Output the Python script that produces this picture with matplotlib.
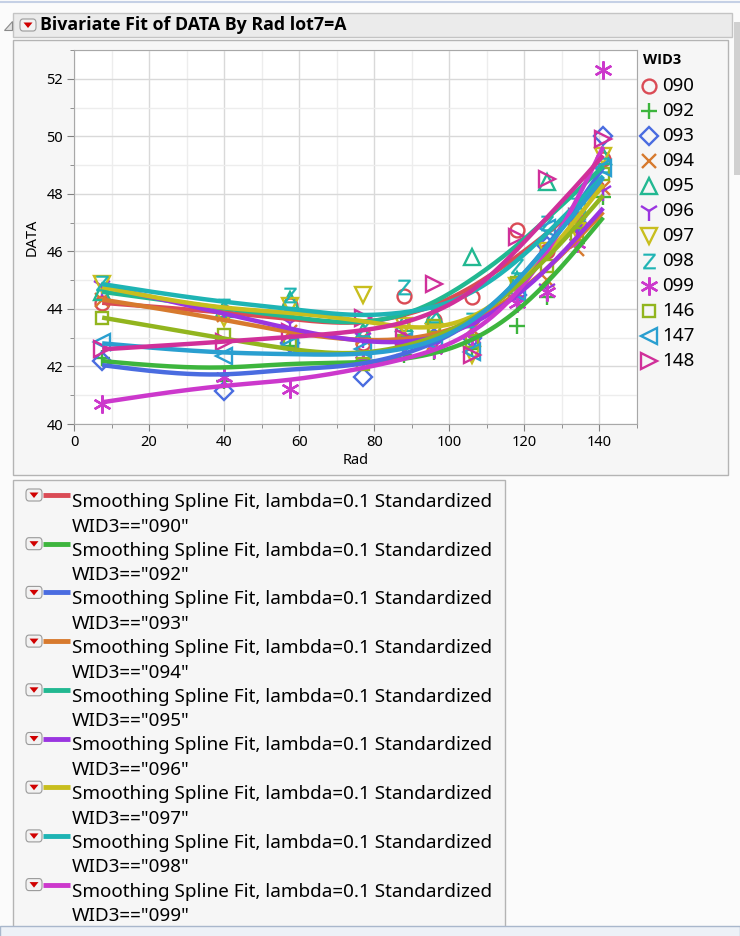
import numpy as np
import matplotlib
matplotlib.use('Agg')
import matplotlib.pyplot as plt
from matplotlib.lines import Line2D
from matplotlib.patches import Rectangle, FancyBboxPatch, Polygon

plt.rcParams['font.family'] = ['Noto Sans', 'DejaVu Sans']

# ---- data ----
rad = [7.5, 40, 57.5, 77, 88, 96, 106, 118, 126, 134, 141]
groups = ['090', '092', '093', '094', '095', '096', '097', '098', '099', '146', '147', '148']

y090 = [44.2, 43.9, 44.15, 42.8, 44.45, 43.6, 44.4, 46.75, 46.0, 46.9, 49.2]
y092 = [42.3, 41.5, 42.7, 42.2, 42.4, 42.5, 42.6, 43.4, 44.4, 46.3, 47.9]
y093 = [42.2, 41.15, 42.8, 41.65, 42.8, 43.0, 43.0, 44.5, 46.2, 47.0, 50.0]
y094 = [44.3, 43.8, 43.2, 43.0, 43.2, 42.8, 43.3, 44.6, 45.0, 46.1, 48.2]
y095 = [44.6, 44.0, 44.3, 43.2, 43.5, 43.8, 45.8, 45.0, 48.4, 47.5, 49.3]
y096 = [44.8, 43.9, 43.5, 43.0, 42.9, 42.7, 43.4, 44.3, 44.7, 46.8, 48.1]
y097 = [44.85, 43.7, 44.1, 44.5, 43.4, 43.2, 42.4, 44.8, 46.0, 46.7, 49.3]
y098 = [44.9, 44.1, 44.5, 43.3, 44.75, 43.8, 43.6, 45.5, 47.0, 47.6, 49.0]
y099 = [40.7, 41.65, 41.2, 42.2, 42.9, 42.6, 43.0, 44.2, 44.6, 46.3, 52.3]
y146 = [43.7, 43.1, 42.8, 42.1, 42.9, 43.4, 42.9, 44.9, 45.5, 46.6, 48.7]
y147 = [42.85, 42.35, 42.75, 42.6, 42.9, 42.8, 42.5, 44.6, 46.8, 47.4, 48.9]
y148 = [42.6, 42.85, 43.2, 43.7, 43.0, 44.85, 42.4, 46.5, 48.5, 47.2, 49.9]
values = [y090, y092, y093, y094, y095, y096, y097, y098, y099, y146, y147, y148]

colors = ['#DA4B55', '#3DB53D', '#4A6CE0', '#D77A2E', '#22B891', '#9A35E0',
          '#C8BE1E', '#1EB4B4', '#CC38CC', '#92B51E', '#2A9FD0', '#D0309A']
markers = ['o', '+', 'D', 'x', '^', '1', 'v', r'$\mathsf{Z}$', (6, 2, 0), 's', '<', '>']
msizes = [10, 12, 9, 10, 11, 14, 11, 11, 13, 9, 11, 11]

W, H = 740, 936
def fx(px):
    return px / W
def fy(py):
    return 1 - py / H


def smooth_spline(x, y, lam, h=0.5):
    # penalised least squares on a fine grid ~ cubic smoothing spline
    t = np.arange(min(x), max(x) + h / 2, h)
    n = len(t)
    w = np.zeros(n)
    b = np.zeros(n)
    for xi, yi in zip(x, y):
        k = int(round((xi - t[0]) / h))
        w[k] += 1
        b[k] += yi
    D = np.diff(np.eye(n), 2, axis=0)
    A = np.diag(w) + lam / h ** 3 * D.T @ D
    return t, np.linalg.solve(A, b)


def mstyle(m, c):
    # text markers (the Z) look best filled, the rest are open
    if isinstance(m, str) and m.startswith('$'):
        return dict(mfc=c, mec=c, mew=0.2)
    return dict(mfc='none', mec=c, mew=1.7)


fig = plt.figure(figsize=(7.4, 9.36), dpi=100)
fig.patch.set_facecolor('#FBFBFB')

def rect(x0, y0, x1, y1, fc, ec, lw=1.0, z=-5):
    fig.add_artist(Rectangle((fx(x0), fy(y1)), fx(x1) - fx(x0), (y1 - y0) / H,
                             transform=fig.transFigure, fc=fc, ec=ec, lw=lw, zorder=z))

def dropdown(x0, y0):
    fig.add_artist(FancyBboxPatch((fx(x0), fy(y0 + 12)), 16 / W, 12 / H,
                                  boxstyle='round,pad=0,rounding_size=0.004',
                                  transform=fig.transFigure, fc='#F2F2F2', ec='#9A9A9A', lw=0.8))
    cx, cy = x0 + 8, y0 + 6
    tri = [(fx(cx - 4.5), fy(cy - 2.5)), (fx(cx + 4.5), fy(cy - 2.5)), (fx(cx), fy(cy + 3))]
    fig.add_artist(Polygon(tri, closed=True, transform=fig.transFigure, fc='#D00000', ec='none'))

# window decorations
fig.add_artist(Line2D([0, 1], [fy(2), fy(2)], transform=fig.transFigure, color='#C5D0E5', lw=1.5))
rect(13, 13, 732, 37, '#EBEBEB', '#C4C4C4')
rect(13, 40, 728, 475, '#F6F6F6', '#B4B4B4')
rect(13, 480, 505, 945, '#F6F6F6', '#B4B4B4')
rect(734, 22, 740, 175, '#D0D0D0', 'none')
rect(0, 926, 740, 940, '#EDF1F7', '#A9B7CC')
fig.add_artist(Polygon([(fx(4), fy(30)), (fx(12), fy(30)), (fx(12), fy(21))], closed=True,
                       transform=fig.transFigure, fc='#E0E0E0', ec='#8A8A8A', lw=0.8))
dropdown(20, 19)
fig.text(fx(40), fy(25), 'Bivariate Fit of DATA By Rad lot7=A', fontsize=12.8,
         fontweight='bold', family=['Open Sans', 'DejaVu Sans'], va='center', ha='left', color='black')

# main plot
ax = fig.add_axes([fx(74), fy(424), (637 - 74) / W, (424 - 50) / H])
ax.set_facecolor('white')
ax.set_xlim(0, 150)
ax.set_ylim(40, 53)
ax.set_xticks(np.arange(0, 141, 20))
ax.set_xticks(np.arange(0, 151, 10), minor=True)
ax.set_yticks(np.arange(40, 53, 2))
ax.set_yticks(np.arange(40, 54, 1), minor=True)
ax.grid(which='major', color='#D9D9D9', lw=1.0)
ax.grid(which='minor', color='#EDEDED', lw=1.0)
ax.set_axisbelow(True)
for s in ax.spines.values():
    s.set_color('#A8A8A8')
ax.tick_params(which='major', length=5, color='#808080', labelsize=10.5, pad=3)
ax.tick_params(which='minor', length=3, color='#808080')
ax.set_xlabel('Rad', fontsize=10.5, labelpad=2)
ax.set_ylabel('DATA', fontsize=10.5, labelpad=5)

for g, yv, c, m, ms in zip(groups, values, colors, markers, msizes):
    ax.plot(rad, yv, ls='none', marker=m, ms=ms, zorder=3, **mstyle(m, c))
for g, yv, c in zip(groups, values, colors):
    t, z = smooth_spline(rad, yv, 4000)
    ax.plot(t, z, color=c, lw=3.2, zorder=4, solid_capstyle='butt')

# group legend at the right
fig.text(fx(643), fy(60), 'WID3', fontsize=10.5, fontweight='bold',
         family=['Open Sans', 'DejaVu Sans'], va='center', ha='left')
for i, (g, c, m, ms) in enumerate(zip(groups, colors, markers, msizes)):
    py = 86 + 25 * i
    fig.add_artist(Line2D([fx(649)], [fy(py)], transform=fig.transFigure, ls='none',
                          marker=m, ms=ms, **mstyle(m, c)))
    fig.text(fx(662), fy(py), g, fontsize=13.5, va='center', ha='left')

# fit legend at the bottom
for i in range(9):
    top = 502 + 48.7 * i
    dropdown(26, top - 13)
    fig.add_artist(Line2D([fx(43), fx(70)], [fy(top - 7), fy(top - 7)], transform=fig.transFigure,
                          color=colors[i], lw=3.5, solid_capstyle='butt'))
    fig.text(fx(72), fy(top), 'Smoothing Spline Fit, lambda=0.1 Standardized',
             fontsize=13.6, va='center', ha='left')
    fig.text(fx(72), fy(top + 24.5), 'WID3=="%s"' % groups[i], fontsize=13.6, va='center', ha='left')

fig.savefig('out.png', dpi=100, facecolor=fig.get_facecolor())
